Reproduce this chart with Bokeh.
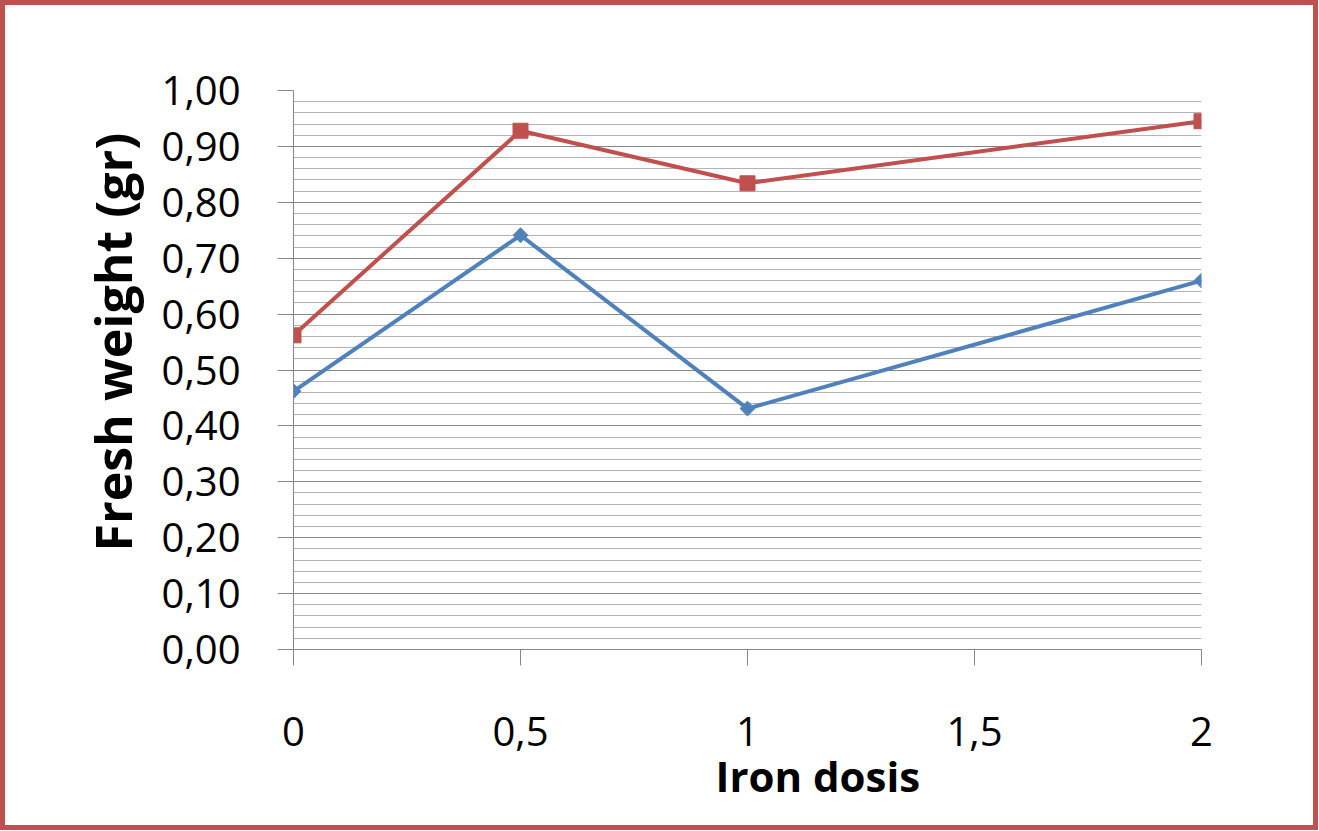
from bokeh.plotting import figure
from bokeh.models import Range1d, SingleIntervalTicker, FixedTicker, CustomJSTickFormatter, Title
from bokeh.embed import file_html
from bokeh.resources import INLINE
import math

iron_dosis = [0, 0.5, 1, 2]
series_red = [0.562, 0.928, 0.834, 0.945]
series_blue = [0.462, 0.741, 0.431, 0.660]
x_ticks = [0, 0.5, 1, 1.5, 2]
x_title = "Iron dosis"
y_title = "Fresh weight (gr)"

FONT = "Open Sans"
AXIS_GRAY = "#868686"

p = figure(width=1318, height=830, output_backend="svg", toolbar_location=None,
           x_range=Range1d(0, 2), y_range=Range1d(0, 1),
           min_border_left=288, min_border_right=122, min_border_top=85, min_border_bottom=186)
p.styles = {"border": "5px solid #C0504D"}
p.outline_line_color = None
p.background_fill_color = "white"

p.xgrid.grid_line_color = None
p.ygrid.ticker = SingleIntervalTicker(interval=0.1, num_minor_ticks=5)
p.ygrid.grid_line_color = AXIS_GRAY
p.ygrid.grid_line_width = 1
p.ygrid.minor_grid_line_color = "#b4b4b4"
p.ygrid.minor_grid_line_width = 1

p.yaxis.ticker = SingleIntervalTicker(interval=0.1, num_minor_ticks=5)
p.yaxis.formatter = CustomJSTickFormatter(code="return tick.toFixed(2).replace('.', ',');")
p.xaxis.ticker = FixedTicker(ticks=x_ticks)
p.xaxis.formatter = CustomJSTickFormatter(code="return String(tick).replace('.', ',');")

for ax in (p.xaxis, p.yaxis):
    ax.axis_line_color = AXIS_GRAY
    ax.major_tick_line_color = AXIS_GRAY
    ax.major_tick_out = 16
    ax.major_tick_in = 0
    ax.minor_tick_out = 0
    ax.minor_tick_in = 0
    ax.minor_tick_line_color = None
    ax.major_label_text_font = FONT
    ax.major_label_text_font_size = "40px"
    ax.major_label_text_color = "black"

p.yaxis.major_label_standoff = 37
p.xaxis.major_label_standoff = 51

# axis titles as side-panel titles (slightly off-centre like the reference)
p.add_layout(Title(text=y_title, align="left", offset=98, standoff=24,
                   text_font=FONT, text_font_style="bold", text_font_size="50px",
                   text_color="black"), "left")
p.add_layout(Title(text=x_title, align="left", offset=422, standoff=-8,
                   text_font=FONT, text_font_style="bold", text_font_size="42px",
                   text_color="black"), "below")

RED = "#C0504D"
BLUE = "#4F81BD"
p.line(iron_dosis, series_red, line_color=RED, line_width=4)
p.scatter(iron_dosis, series_red, marker="square", size=15, fill_color=RED, line_color=RED)
p.line(iron_dosis, series_blue, line_color=BLUE, line_width=4)
p.scatter(iron_dosis, series_blue, marker="square", size=10.5, angle=math.pi / 4,
          fill_color=BLUE, line_color=BLUE)

open("out.html", "w").write(file_html(p, INLINE))
